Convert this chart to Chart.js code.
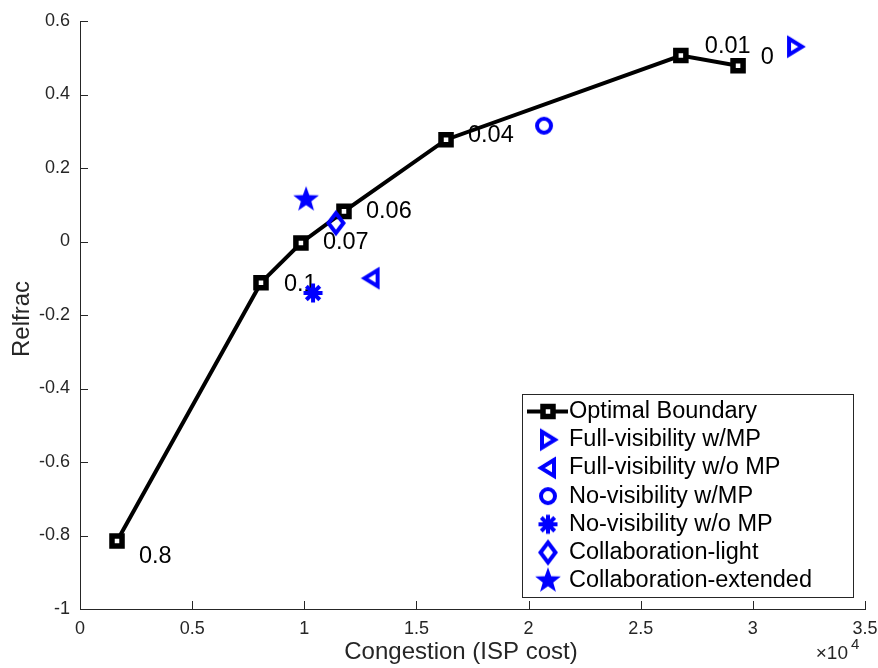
<!DOCTYPE html>
<html>
<head>
<meta charset="utf-8">
<script src="https://cdn.jsdelivr.net/npm/chart.js@4.4.1/dist/chart.umd.min.js"></script>
<style>
  body { margin: 0; background: #fff; }
</style>
</head>
<body>
<canvas id="relfracChart" width="878" height="668"></canvas>
<script>
// optimal boundary curve + the weight written next to each point
const boundaryX = [1650, 8070, 9850, 11770, 16320, 26790, 29340];
const boundaryY = [-0.815, -0.112, -0.004, 0.082, 0.277, 0.506, 0.478];
const boundaryLabels = ['0.8', '0.1', '0.07', '0.06', '0.04', '0.01', '0'];
const labelX = [2630, 9090, 10830, 12750, 17300, 27860, 30350];
const labelY = [-0.858, -0.118, -0.004, 0.082, 0.288, 0.530, 0.500];

// single point schemes
const schemeNames = ['Full-visibility w/MP', 'Full-visibility w/o MP', 'No-visibility w/MP',
    'No-visibility w/o MP', 'Collaboration-light', 'Collaboration-extended'];
const schemeX = [31880, 13000, 20690, 10390, 11410, 10080];
const schemeY = [0.53, -0.10, 0.315, -0.14, 0.05, 0.114];
const schemeMarkers = ['triRight', 'triLeft', 'circle', 'asterisk', 'diamond', 'pentagram'];

const xMin = 0, xMax = 35000, xStep = 5000;
const yMin = -1, yMax = 0.6, yStep = 0.2;

const BLUE = '#0000ff';
const AXIS = '#262626';
const FONT = '"Liberation Sans", Arial, Helvetica, sans-serif';

// draw a matlab-like marker into a small canvas, used as pointStyle
function makeMarker(kind) {
    const c = document.createElement('canvas');
    c.width = 32;
    c.height = 32;
    const g = c.getContext('2d');
    g.translate(16, 16);
    g.strokeStyle = BLUE;
    g.fillStyle = BLUE;
    g.lineWidth = 4;
    g.beginPath();
    switch (kind) {
        case 'triRight':
            g.moveTo(-6, -8); g.lineTo(7, 0); g.lineTo(-6, 8); g.closePath(); g.stroke();
            break;
        case 'triLeft':
            g.moveTo(6, -8); g.lineTo(-7, 0); g.lineTo(6, 8); g.closePath(); g.stroke();
            break;
        case 'circle':
            g.arc(0, 0, 7, 0, Math.PI * 2); g.stroke();
            break;
        case 'asterisk':
            for (let a = 0; a < 4; a++) {
                const r = a * Math.PI / 4;
                g.moveTo(-9.5 * Math.cos(r), -9.5 * Math.sin(r));
                g.lineTo(9.5 * Math.cos(r), 9.5 * Math.sin(r));
            }
            g.stroke();
            break;
        case 'diamond':
            g.moveTo(0, -10); g.lineTo(7.5, 0); g.lineTo(0, 10); g.lineTo(-7.5, 0); g.closePath(); g.stroke();
            break;
        case 'pentagram':
            for (let k = 0; k < 10; k++) {
                const r = k % 2 === 0 ? 13.5 : 5.5;
                const ang = -Math.PI / 2 + k * Math.PI / 5;
                if (k === 0) g.moveTo(r * Math.cos(ang), r * Math.sin(ang));
                else g.lineTo(r * Math.cos(ang), r * Math.sin(ang));
            }
            g.closePath(); g.fill();
            break;
    }
    return c;
}

const markerImgs = schemeMarkers.map(makeMarker);

const datasets = [{
    label: 'Optimal Boundary',
    data: boundaryX.map((x, i) => ({ x: x, y: boundaryY[i] })),
    showLine: true,
    borderColor: '#000',
    borderWidth: 4,
    pointStyle: 'rect',
    pointRadius: 7.1,
    pointBorderWidth: 5.5,
    pointBorderColor: '#000',
    pointBackgroundColor: '#fff',
    order: 1
}];
schemeNames.forEach((name, i) => {
    datasets.push({
        label: name,
        data: [{ x: schemeX[i], y: schemeY[i] }],
        showLine: false,
        pointStyle: markerImgs[i],
        pointRadius: 10,
        order: 0
    });
});

// weight labels beside boundary points (under the markers)
const labelPlugin = {
    id: 'boundaryLabels',
    beforeDatasetsDraw(chart) {
        const ctx = chart.ctx;
        const xs = chart.scales.x, ys = chart.scales.y;
        ctx.save();
        ctx.font = '23.5px ' + FONT;
        ctx.fillStyle = '#000';
        ctx.textAlign = 'left';
        ctx.textBaseline = 'middle';
        boundaryLabels.forEach((t, i) => {
            ctx.fillText(t, xs.getPixelForValue(labelX[i]), ys.getPixelForValue(labelY[i]));
        });
        ctx.restore();
    }
};

// inward ticks, axis titles, exponent and the boxed legend
const decorPlugin = {
    id: 'decor',
    afterDraw(chart) {
        const ctx = chart.ctx;
        const a = chart.chartArea;
        const xs = chart.scales.x, ys = chart.scales.y;
        ctx.save();
        ctx.strokeStyle = AXIS;
        ctx.lineWidth = 1;
        ctx.beginPath();
        xs.ticks.forEach(t => {
            const px = Math.round(xs.getPixelForValue(t.value)) + 0.5;
            ctx.moveTo(px, a.bottom);
            ctx.lineTo(px, a.bottom - 8);
        });
        ys.ticks.forEach(t => {
            const py = Math.round(ys.getPixelForValue(t.value)) + 0.5;
            ctx.moveTo(a.left, py);
            ctx.lineTo(a.left + 8, py);
        });
        ctx.stroke();

        ctx.fillStyle = AXIS;
        ctx.font = '24px ' + FONT;
        ctx.textAlign = 'center';
        ctx.textBaseline = 'middle';
        ctx.fillText('Congestion (ISP cost)', 461, 652);
        ctx.save();
        ctx.translate(22, 319);
        ctx.rotate(-Math.PI / 2);
        ctx.fillText('Relfrac', 0, 0);
        ctx.restore();

        ctx.textAlign = 'right';
        ctx.textBaseline = 'alphabetic';
        ctx.font = '19px ' + FONT;
        ctx.fillText('\u00d710', 848, 659);
        ctx.textAlign = 'left';
        ctx.font = '15px ' + FONT;
        ctx.fillText('4', 851, 649);

        // legend
        const bx = 522, by = 394, bw = 331, bh = 203;
        ctx.fillStyle = '#fff';
        ctx.fillRect(bx, by, bw, bh);
        ctx.strokeStyle = AXIS;
        ctx.strokeRect(bx + 0.5, by + 0.5, bw, bh);
        const rowH = 28.2, firstY = 411.5, mx = 548, tx = 569;
        ctx.font = '23.5px ' + FONT;
        ctx.textBaseline = 'middle';
        // boundary entry
        ctx.strokeStyle = '#000';
        ctx.lineWidth = 4;
        ctx.beginPath();
        ctx.moveTo(527, firstY);
        ctx.lineTo(568, firstY);
        ctx.stroke();
        ctx.lineWidth = 5.5;
        ctx.fillStyle = '#fff';
        ctx.fillRect(mx - 5, firstY - 5, 10, 10);
        ctx.strokeRect(mx - 5, firstY - 5, 10, 10);
        ctx.fillStyle = '#000';
        ctx.fillText('Optimal Boundary', tx, firstY);
        schemeNames.forEach((name, i) => {
            const cy = firstY + rowH * (i + 1);
            const img = markerImgs[i];
            ctx.drawImage(img, mx - img.width / 2, cy - img.height / 2);
            ctx.fillText(name, tx, cy);
        });
        ctx.restore();
    }
};

new Chart(document.getElementById('relfracChart'), {
    type: 'scatter',
    data: { datasets: datasets },
    options: {
        responsive: false,
        animation: false,
        events: [],
        layout: { padding: { top: 21, right: 13, left: 0, bottom: 0 } },
        plugins: {
            legend: { display: false },
            tooltip: { enabled: false }
        },
        scales: {
            x: {
                type: 'linear',
                min: xMin,
                max: xMax,
                afterFit: s => { s.height = 59; s.paddingLeft = 0; s.paddingRight = 0; },
                grid: { display: false, drawTicks: false },
                border: { display: true, color: AXIS, width: 1 },
                ticks: {
                    stepSize: xStep,
                    padding: 9,
                    color: AXIS,
                    font: { family: FONT, size: 18 },
                    maxRotation: 0,
                    callback: v => String(+(v / 1e4).toFixed(1))
                }
            },
            y: {
                min: yMin,
                max: yMax,
                afterFit: s => { s.width = 80; s.paddingTop = 0; s.paddingBottom = 0; },
                grid: { display: false, drawTicks: false },
                border: { display: true, color: AXIS, width: 1 },
                ticks: {
                    stepSize: yStep,
                    padding: 10,
                    color: AXIS,
                    font: { family: FONT, size: 18 },
                    callback: v => String(+v.toFixed(1))
                }
            }
        }
    },
    plugins: [labelPlugin, decorPlugin]
});
</script>
</body>
</html>
